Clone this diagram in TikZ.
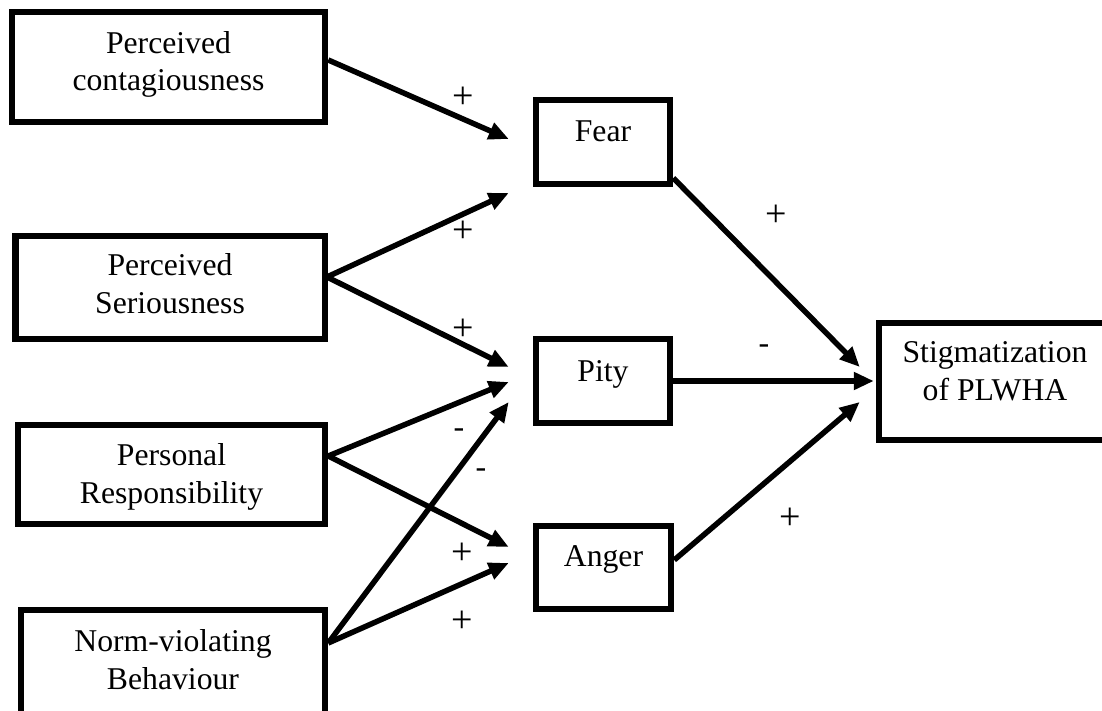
\documentclass[tikz,border=0pt]{standalone}
\usepackage{fontspec}
\setmainfont{Liberation Serif}
\usetikzlibrary{arrows.meta,calc}
\newcommand{\boxtxt}[2]{\raisebox{#1}[0pt][0pt]{\begin{tabular}[b]{@{}c@{}}#2\end{tabular}}}
\begin{document}
\begin{tikzpicture}[x=1pt,y=-1pt,
  box/.style={draw, line width=6.5pt, inner sep=0pt, font=\fontsize{31.7}{37.4}\selectfont},
  arr/.style={line width=5.5pt, -{Triangle[length=20pt,width=17pt]}},
  sign/.style={inner sep=0pt, font=\fontsize{38}{40}\selectfont},
  minus/.style={inner sep=0pt, font=\fontsize{32}{36}\selectfont}]
\clip (0,0) rectangle (1102,711);
\fill[white] (0,0) rectangle (1102,711);

% left boxes
\node[box, minimum width=313pt, minimum height=110pt] (cont) at (168.5,67) {\boxtxt{-23.7pt}{Perceived\\contagiousness}};
\node[box, minimum width=309.5pt, minimum height=103pt] (ser) at (170,287.5) {\boxtxt{-25.8pt}{Perceived\\Seriousness}};
\node[box, minimum width=307pt, minimum height=99pt] (resp) at (171.5,474.5) {\boxtxt{-28.8pt}{Personal\\Responsibility}};
\node[box, minimum width=304pt, minimum height=104pt] (norm) at (173,662) {\boxtxt{-27.3pt}{Norm-violating\\Behaviour}};

% middle boxes
\node[box, minimum width=134pt, minimum height=84pt] (fear) at (603,142) {\boxtxt{0pt}{Fear}};
\node[box, minimum width=134pt, minimum height=84pt] (pity) at (603,381) {\boxtxt{0pt}{Pity}};
\node[box, minimum width=135pt, minimum height=83pt] (anger) at (603.5,567.5) {\boxtxt{0.8pt}{Anger}};

% outcome
\node[box, minimum width=232pt, minimum height=117pt] (stig) at (995,381.5) {\boxtxt{-18.5pt}{Stigmatization\\of PLWHA}};

% arrow end points
\coordinate (t1) at ($(fear.west)+(-24,-3)$);
\coordinate (t2) at ($(fear.west)+(-24,51)$);
\coordinate (t3) at ($(pity.west)+(-24,-14)$);
\coordinate (t4) at ($(pity.west)+(-24,1)$);
\coordinate (t5) at ($(pity.west)+(-24,21)$);
\coordinate (t6) at ($(anger.west)+(-24,-20.5)$);
\coordinate (t7) at ($(anger.west)+(-24,-4.5)$);
\coordinate (t8) at ($(stig.west)+(-16,-14.5)$);
\coordinate (t9) at ($(pity.east -| stig.west)+(-2,0)$);
\coordinate (t10) at ($(stig.west)+(-16,20.5)$);

% arrows
\draw[arr] ($(cont.east)+(0,-7)$) -- (t1);
\draw[arr] ($(ser.east)+(0,-11)$) -- (t2);
\draw[arr] ($(ser.east)+(0,-10)$) -- (t3);
\draw[arr] ($(resp.east)+(0,-18.5)$) -- (t4);
\draw[arr] ($(norm.east)+(0,-19)$) -- (t5);
\draw[arr] ($(resp.east)+(0,-18.5)$) -- (t6);
\draw[arr] ($(norm.east)+(0,-19)$) -- (t7);
\draw[arr] ($(fear.east)+(0,36)$) -- (t8);
\draw[arr] (pity.east) -- (t9);
\draw[arr] ($(anger.east)+(0,-7.5)$) -- (t10);

% signs
\node[sign] (s1) at (463,98) {+};
\node[sign] (s2) at (463,232) {+};
\node[sign] (s3) at (463,330) {+};
\node[minus] (s4) at (459,433) {-};
\node[minus] (s5) at (481,473) {-};
\node[sign] (s6) at (462,554) {+};
\node[sign] (s7) at (462,622) {+};
\node[sign] (s8) at (776,216) {+};
\node[minus] (s9) at (764,349) {-};
\node[sign] (s10) at (790,519) {+};
\end{tikzpicture}
\end{document}
